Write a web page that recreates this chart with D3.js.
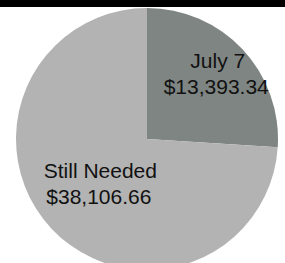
<!DOCTYPE html>
<html><head><meta charset="utf-8">
<script src="https://cdn.jsdelivr.net/npm/d3@7"></script>
<style>html,body{margin:0;padding:0;background:#fff;overflow:hidden}</style>
</head><body>
<svg id="c" width="285" height="263"></svg>
<script>
const categories = ["July 7", "Still Needed"];
const values = [13393.34, 38106.66];
const colors = ["#7f8582", "#b3b3b3"];

const svg = d3.select("#c");
const W = 285, H = 263;
const cx = 147, cy = 139, r = 131;

const g = svg.append("g").attr("transform", `translate(${cx},${cy})`);
const data = categories.map((c, i) => ({ name: c, value: values[i], color: colors[i] }));
const pie = d3.pie().value(d => d.value).sort(null);
const arc = d3.arc().innerRadius(0).outerRadius(r);
const arcs = pie(data);

g.selectAll("path").data(arcs).join("path")
  .attr("d", arc).attr("fill", d => d.data.color);

const fmt = d3.format("$,.2f");
const labelR = [97, 64];
arcs.forEach((a, i) => {
  const la = d3.arc().innerRadius(labelR[i]).outerRadius(labelR[i]);
  const [x, y] = la.centroid(a);
  const t = g.append("text").attr("text-anchor", "middle")
    .attr("font-family", "Liberation Sans, Arial, sans-serif")
    .attr("font-size", 21).attr("fill", "#111");
  t.append("tspan").attr("x", x).attr("y", y - 5).text(a.data.name);
  t.append("tspan").attr("x", x - 1.5).attr("y", y + 21).text(fmt(a.data.value));
});

svg.append("rect").attr("x", 0).attr("y", 0).attr("width", W).attr("height", 7).attr("fill", "#000");
</script>
</body></html>
